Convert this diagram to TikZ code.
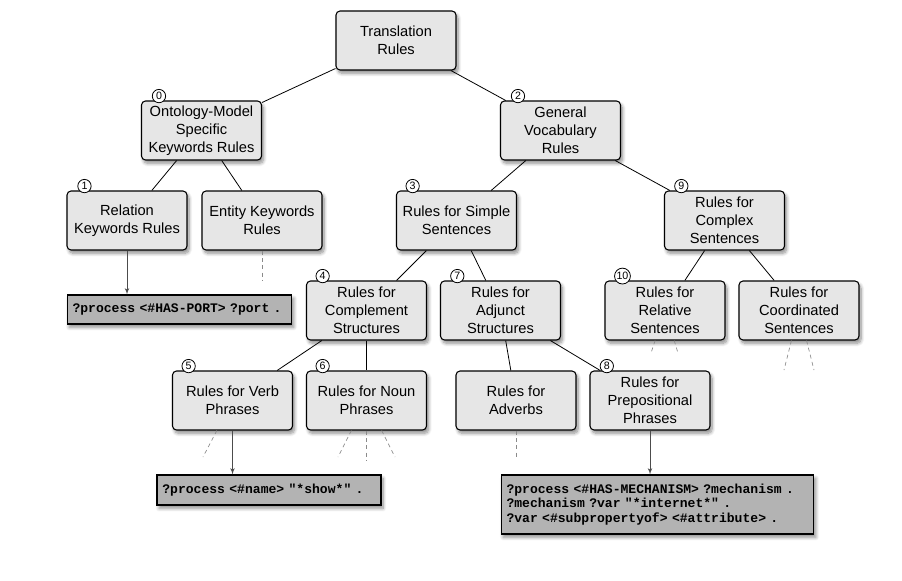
\documentclass[tikz,border=0pt]{standalone}
\usepackage{fontspec}
\setmainfont{Liberation Sans}
\setmonofont{Liberation Mono}
\usepackage{tikz}
\usetikzlibrary{positioning,arrows,calc,shadows.blur}
\definecolor{boxgray}{HTML}{E6E6E6}
\definecolor{codegray}{HTML}{B3B3B3}
\definecolor{stubgray}{HTML}{8A8A8A}
\tikzset{
    x=0.75pt,
    y=-0.75pt,
    rulebox/.style = {
        draw,
        shape=rectangle,
        rounded corners=3pt,
        fill=boxgray,
        minimum height=44.25pt,
        minimum width=90pt,
        line width=0.8pt,
        align=center,
        font=\fontsize{11}{13.4}\selectfont,
        blur shadow={shadow xshift=1.5pt, shadow yshift=-2.5pt,
            shadow blur radius=2.5pt, shadow blur steps=8, shadow opacity=45}
    },
    codebox/.style = {
        draw,
        shape=rectangle,
        fill=codegray,
        line width=0.8pt,
        align=left,
        inner xsep=4pt,
        font=\ttfamily\bfseries\fontsize{9.8}{10.9}\selectfont,
        blur shadow={shadow xshift=1.5pt, shadow yshift=-2.5pt,
            shadow blur radius=2.5pt, shadow blur steps=8, shadow opacity=45}
    },
    badge/.style = {
        draw,
        shape=circle,
        fill=white,
        inner sep=0.5pt,
        minimum size=10pt,
        line width=0.6pt,
        font=\fontsize{8}{8}\selectfont
    },
    link/.style = {
        line width=0.6pt
    },
    stub/.style = {
        draw=stubgray,
        line width=0.5pt,
        dash pattern=on 3pt off 2.5pt
    },
    >=latex',
}

\begin{document}
\begin{tikzpicture}
    \useasboundingbox (0,0) rectangle (902,581);

    \node[rulebox] (trans) at (396,40.5) {Translation\\Rules};
    \node[rulebox] (onto) at (201.5,130.5) {Ontology-Model\\Specific\\Keywords Rules};
    \node[rulebox] (genvoc) at (560.5,130.5) {General\\Vocabulary\\Rules};
    \node[rulebox] (relkw) at (127,220.5) {Relation\\Keywords Rules};
    \node[rulebox] (entkw) at (262,220.5) {Entity Keywords\\Rules};
    \node[rulebox] (simple) at (456.5,220.5) {Rules for Simple\\Sentences};
    \node[rulebox] (complex) at (724.5,220.5) {Rules for\\Complex\\Sentences};
    \node[rulebox] (compl) at (366.5,310.5) {Rules for\\Complement\\Structures};
    \node[rulebox] (adjunct) at (500.5,310.5) {Rules for\\Adjunct\\Structures};
    \node[rulebox] (relative) at (665,310.5) {Rules for\\Relative\\Sentences};
    \node[rulebox] (coord) at (799,310.5) {Rules for\\Coordinated\\Sentences};
    \node[rulebox] (verb) at (232.5,400.5) {Rules for Verb\\Phrases};
    \node[rulebox] (noun) at (366.5,400.5) {Rules for Noun\\Phrases};
    \node[rulebox] (adverbs) at (516,400.5) {Rules for\\Adverbs};
    \node[rulebox] (prep) at (650,400.5) {Rules for\\Prepositional\\Phrases};

    \node[codebox, text width=160.5pt, minimum height=21.75pt] (port) at (179.5,309.5)
        {?process <\#HAS-PORT> ?port .};
    \node[codebox, text width=160pt, minimum height=22.5pt] (show) at (269,490)
        {?process <\#name> "*show*" .};
    \node[codebox, text width=226.5pt, minimum height=44.25pt] (mech) at (657.5,504.5)
        {?process <\#HAS-MECHANISM> ?mechanism .\\
         ?mechanism ?var "*internet*" .\\
         ?var <\#subpropertyof> <\#attribute> .};

    % tree
    \path[draw, link] (trans) -- (onto);
    \path[draw, link] (trans) -- (genvoc);
    \path[draw, link] (onto) -- (relkw);
    \path[draw, link] (onto) -- (entkw);
    \path[draw, link] (genvoc) -- (simple);
    \path[draw, link] (genvoc) -- (complex);
    \path[draw, link] (simple) -- (compl);
    \path[draw, link] (simple) -- (adjunct);
    \path[draw, link] (complex) -- (relative);
    \path[draw, link] (complex) -- (coord);
    \path[draw, link] (compl) -- (verb);
    \path[draw, link] (compl) -- (noun);
    \path[draw, link] (adjunct) -- (adverbs);
    \path[draw, link] (adjunct) -- (prep);

    % examples
    \path[draw, link, ->, color=black!70] (relkw) -- (relkw |- port.north);
    \path[draw, link, ->, color=black!70] (verb) -- (verb |- show.north);
    \path[draw, link, ->, color=black!70] (prep) -- (prep |- mech.north);

    % open ends
    \coordinate (entkw-e) at (262,280);
    \coordinate (relative-e1) at (651,353);
    \coordinate (relative-e2) at (678,353);
    \coordinate (coord-e1) at (784,370);
    \coordinate (coord-e2) at (814,370);
    \coordinate (verb-e) at (203,457);
    \coordinate (noun-e1) at (338,457);
    \coordinate (noun-e2) at (366.5,460);
    \coordinate (noun-e3) at (395,457);
    \coordinate (adverbs-e) at (516,459);
    \path[stub] (entkw) -- (entkw-e);
    \path[stub] (relative) -- (relative-e1);
    \path[stub] (relative) -- (relative-e2);
    \path[stub] (coord) -- (coord-e1);
    \path[stub] (coord) -- (coord-e2);
    \path[stub] (verb) -- (verb-e);
    \path[stub] (noun) -- (noun-e1);
    \path[stub] (noun) -- (noun-e2);
    \path[stub] (noun) -- (noun-e3);
    \path[stub] (adverbs) -- (adverbs-e);

    % numbers
    \node[badge] (n0) at ([xshift=13.5pt,yshift=3.3pt]onto.north west) {0};
    \node[badge] (n1) at ([xshift=13.5pt,yshift=3.3pt]relkw.north west) {1};
    \node[badge] (n2) at ([xshift=13.5pt,yshift=3.3pt]genvoc.north west) {2};
    \node[badge] (n3) at ([xshift=12.5pt,yshift=3.3pt]simple.north west) {3};
    \node[badge] (n4) at ([xshift=12.5pt,yshift=3.3pt]compl.north west) {4};
    \node[badge] (n5) at ([xshift=12.5pt,yshift=3.3pt]verb.north west) {5};
    \node[badge] (n6) at ([xshift=12.5pt,yshift=3.3pt]noun.north west) {6};
    \node[badge] (n7) at ([xshift=13pt,yshift=3.3pt]adjunct.north west) {7};
    \node[badge] (n8) at ([xshift=13pt,yshift=3.3pt]prep.north west) {8};
    \node[badge] (n9) at ([xshift=13pt,yshift=3.3pt]complex.north west) {9};
    \node[badge] (n10) at ([xshift=13.5pt,yshift=3.3pt]relative.north west) {10};
\end{tikzpicture}
\end{document}
